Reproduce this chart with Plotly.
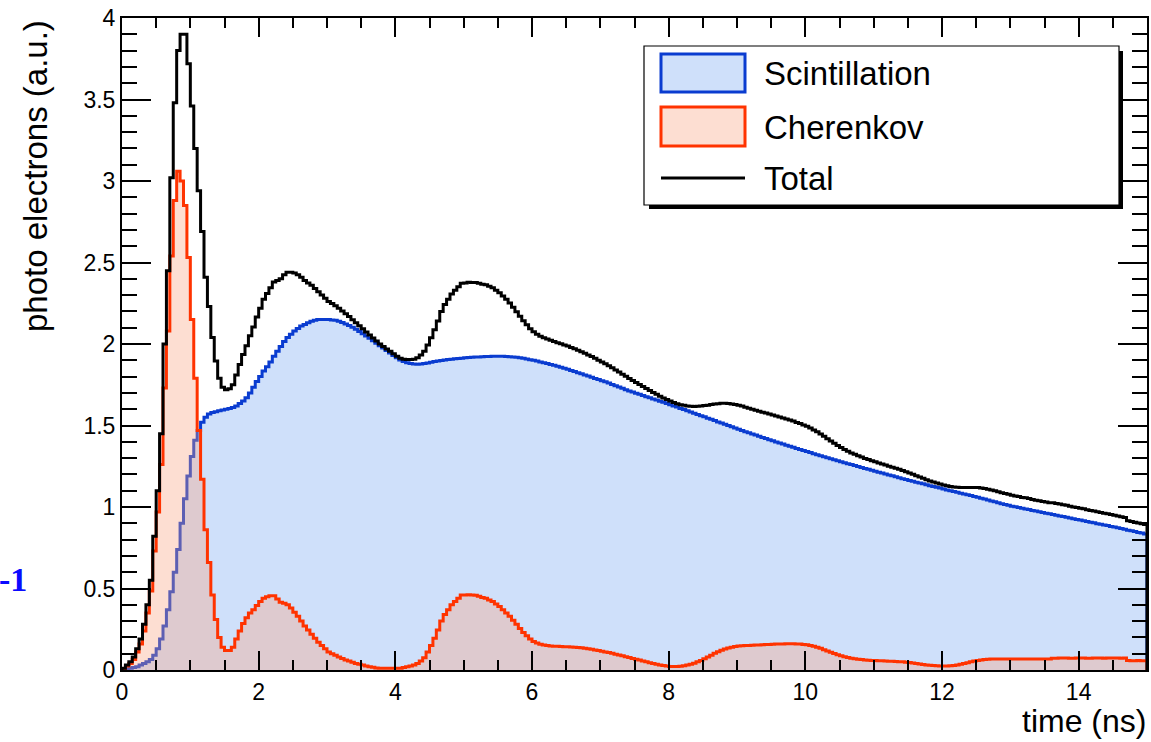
import numpy as np
import plotly.graph_objects as go

# ---------------- data (photo electrons per 0.05 ns bin, 0 - 15 ns) ----------------
t_min = 0.0
bin_width = 0.05

scintillation = [
    0.003, 0.006, 0.010, 0.015, 0.020, 0.030, 0.040, 0.050, 0.065, 0.090,
    0.130, 0.190, 0.270, 0.370, 0.480, 0.600, 0.740, 0.900, 1.050, 1.190,
    1.310, 1.410, 1.470, 1.520, 1.550, 1.570, 1.580, 1.585, 1.590, 1.595,
    1.600, 1.605, 1.610, 1.620, 1.635, 1.650, 1.670, 1.700, 1.735, 1.770,
    1.800, 1.835, 1.860, 1.890, 1.925, 1.955, 1.985, 2.015, 2.040, 2.060,
    2.080, 2.095, 2.110, 2.120, 2.130, 2.140, 2.145, 2.150, 2.150, 2.150,
    2.150, 2.148, 2.145, 2.140, 2.132, 2.123, 2.113, 2.102, 2.090, 2.077,
    2.063, 2.049, 2.035, 2.020, 2.005, 1.990, 1.975, 1.960, 1.945, 1.930,
    1.915, 1.902, 1.892, 1.885, 1.880, 1.877, 1.876, 1.877, 1.880, 1.884,
    1.888, 1.892, 1.896, 1.899, 1.902, 1.905, 1.907, 1.909, 1.911, 1.913,
    1.915, 1.917, 1.918, 1.920, 1.920, 1.922, 1.923, 1.924, 1.925, 1.925,
    1.925, 1.925, 1.924, 1.922, 1.920, 1.918, 1.915, 1.912, 1.908, 1.904,
    1.900, 1.895, 1.890, 1.885, 1.880, 1.875, 1.869, 1.863, 1.857, 1.851,
    1.845, 1.838, 1.831, 1.824, 1.817, 1.810, 1.803, 1.796, 1.789, 1.782,
    1.775, 1.768, 1.760, 1.752, 1.744, 1.736, 1.728, 1.720, 1.712, 1.705,
    1.698, 1.691, 1.684, 1.677, 1.670, 1.663, 1.656, 1.649, 1.642, 1.635,
    1.628, 1.620, 1.613, 1.605, 1.598, 1.590, 1.583, 1.575, 1.568, 1.560,
    1.553, 1.545, 1.538, 1.530, 1.522, 1.515, 1.507, 1.500, 1.492, 1.485,
    1.477, 1.470, 1.462, 1.455, 1.448, 1.441, 1.434, 1.427, 1.420, 1.413,
    1.406, 1.399, 1.392, 1.386, 1.379, 1.372, 1.366, 1.359, 1.353, 1.346,
    1.340, 1.334, 1.327, 1.321, 1.315, 1.309, 1.302, 1.296, 1.290, 1.284,
    1.278, 1.272, 1.266, 1.260, 1.254, 1.248, 1.242, 1.236, 1.231, 1.225,
    1.219, 1.213, 1.208, 1.202, 1.196, 1.191, 1.185, 1.180, 1.174, 1.169,
    1.163, 1.158, 1.152, 1.147, 1.142, 1.136, 1.131, 1.126, 1.121, 1.116,
    1.110, 1.105, 1.100, 1.095, 1.090, 1.085, 1.080, 1.075, 1.070, 1.065,
    1.060, 1.054, 1.049, 1.043, 1.037, 1.032, 1.026, 1.020, 1.015, 1.010,
    1.005, 1.001, 0.997, 0.992, 0.988, 0.984, 0.979, 0.975, 0.971, 0.966,
    0.962, 0.958, 0.954, 0.949, 0.945, 0.941, 0.937, 0.932, 0.928, 0.924,
    0.920, 0.916, 0.911, 0.907, 0.903, 0.898, 0.894, 0.890, 0.886, 0.881,
    0.877, 0.872, 0.868, 0.863, 0.858, 0.854, 0.849, 0.844, 0.840, 0.835,
]

cherenkov = [
    0.007, 0.024, 0.040, 0.065, 0.110, 0.160, 0.240, 0.350, 0.485, 0.730,
    0.970, 1.260, 1.730, 2.080, 2.540, 2.880, 3.060, 3.000, 2.850, 2.530,
    2.150, 1.790, 1.470, 1.170, 0.860, 0.660, 0.460, 0.310, 0.200, 0.140,
    0.120, 0.120, 0.140, 0.190, 0.240, 0.285, 0.320, 0.350, 0.370, 0.395,
    0.420, 0.440, 0.450, 0.455, 0.455, 0.435, 0.415, 0.410, 0.400, 0.380,
    0.355, 0.330, 0.300, 0.270, 0.245, 0.220, 0.195, 0.170, 0.150, 0.130,
    0.110, 0.100, 0.090, 0.080, 0.070, 0.062, 0.055, 0.047, 0.040, 0.035,
    0.030, 0.025, 0.020, 0.017, 0.013, 0.010, 0.010, 0.010, 0.010, 0.010,
    0.010, 0.010, 0.015, 0.020, 0.025, 0.030, 0.040, 0.055, 0.075, 0.110,
    0.150, 0.195, 0.245, 0.300, 0.340, 0.370, 0.400, 0.420, 0.440, 0.460,
    0.460, 0.462, 0.460, 0.458, 0.452, 0.445, 0.440, 0.430, 0.420, 0.405,
    0.390, 0.370, 0.350, 0.330, 0.305, 0.280, 0.255, 0.230, 0.210, 0.190,
    0.175, 0.165, 0.158, 0.153, 0.150, 0.148, 0.146, 0.145, 0.144, 0.143,
    0.142, 0.141, 0.140, 0.138, 0.136, 0.133, 0.130, 0.127, 0.123, 0.119,
    0.115, 0.111, 0.107, 0.102, 0.097, 0.092, 0.087, 0.082, 0.076, 0.071,
    0.066, 0.061, 0.055, 0.050, 0.045, 0.040, 0.035, 0.031, 0.027, 0.024,
    0.022, 0.021, 0.021, 0.023, 0.026, 0.030, 0.035, 0.042, 0.050, 0.059,
    0.069, 0.080, 0.091, 0.102, 0.112, 0.121, 0.129, 0.135, 0.140, 0.144,
    0.147, 0.149, 0.150, 0.151, 0.152, 0.153, 0.154, 0.155, 0.156, 0.157,
    0.158, 0.159, 0.160, 0.160, 0.161, 0.161, 0.161, 0.160, 0.159, 0.157,
    0.155, 0.151, 0.146, 0.140, 0.133, 0.125, 0.117, 0.109, 0.101, 0.094,
    0.087, 0.081, 0.076, 0.072, 0.069, 0.066, 0.064, 0.062, 0.060, 0.059,
    0.058, 0.057, 0.056, 0.055, 0.054, 0.053, 0.052, 0.051, 0.050, 0.048,
    0.046, 0.043, 0.040, 0.037, 0.034, 0.031, 0.029, 0.027, 0.026, 0.025,
    0.025, 0.025, 0.026, 0.028, 0.031, 0.035, 0.040, 0.045, 0.050, 0.055,
    0.059, 0.062, 0.064, 0.066, 0.067, 0.067, 0.067, 0.067, 0.068, 0.068,
    0.067, 0.067, 0.067, 0.067, 0.068, 0.068, 0.067, 0.067, 0.067, 0.068,
    0.068, 0.068, 0.072, 0.072, 0.073, 0.073, 0.073, 0.072, 0.072, 0.073,
    0.073, 0.073, 0.072, 0.072, 0.073, 0.073, 0.073, 0.072, 0.073, 0.073,
    0.073, 0.073, 0.072, 0.073, 0.058, 0.057, 0.057, 0.058, 0.057, 0.057,
]

series_names = ["Scintillation", "Cherenkov", "Total"]
x_title = "time (ns)"
y_title = "photo electrons (a.u.)"

# ---------------- helpers ----------------
scint = np.array(scintillation)
cher = np.array(cherenkov)
total = scint + cher
n_bins = len(scint)
edges = t_min + bin_width * np.arange(n_bins + 1)


def step_xy(vals):
    """histogram outline: start at 0, step through bins, drop back to 0"""
    xs = np.concatenate([[edges[0]], edges[:-1], [edges[-1], edges[-1]]])
    ys = np.concatenate([[0.0], vals, [vals[-1], 0.0]])
    return xs, ys


BLUE_LINE = "#0a3cd0"
BLUE_FILL = "#cfe0fa"
RED_LINE = "#ff3300"
RED_FILL = "rgba(249,161,126,0.35)"
FONT = "Liberation Sans, Arial, Helvetica, sans-serif"
LW = 3

fig = go.Figure()
xs, ys = step_xy(scint)
fig.add_trace(go.Scatter(x=xs, y=ys, mode="lines", line=dict(color=BLUE_LINE, width=LW, shape="hv"),
                         fill="tozeroy", fillcolor=BLUE_FILL, name=series_names[0], hoverinfo="skip"))
xs, ys = step_xy(cher)
fig.add_trace(go.Scatter(x=xs, y=ys, mode="lines", line=dict(color=RED_LINE, width=LW, shape="hv"),
                         fill="tozeroy", fillcolor=RED_FILL, name=series_names[1], hoverinfo="skip"))
xs, ys = step_xy(total)
fig.add_trace(go.Scatter(x=xs, y=ys, mode="lines", line=dict(color="black", width=LW, shape="hv"),
                         name=series_names[2], hoverinfo="skip"))

W, H = 1151, 742
L, R, T, B = 122, 4, 18, 72
PW, PH = W - L - R, H - T - B


def px(p):
    return (p - L) / PW


def py(p):
    return (H - B - p) / PH


shapes = [
    dict(type="rect", xref="paper", yref="paper", x0=px(649), x1=px(1123), y0=py(209), y1=py(51),
         fillcolor="black", line=dict(width=0)),
    dict(type="rect", xref="paper", yref="paper", x0=px(644), x1=px(1119), y0=py(205), y1=py(46),
         fillcolor="white", line=dict(color="black", width=1.2)),
    dict(type="rect", xref="paper", yref="paper", x0=px(661), x1=px(745), y0=py(92), y1=py(54),
         fillcolor=BLUE_FILL, line=dict(color=BLUE_LINE, width=LW)),
    dict(type="rect", xref="paper", yref="paper", x0=px(661), x1=px(745), y0=py(146), y1=py(107),
         fillcolor=RED_FILL, line=dict(color=RED_LINE, width=LW)),
    dict(type="line", xref="paper", yref="paper", x0=px(661), x1=px(745), y0=py(178), y1=py(178),
         line=dict(color="black", width=LW)),
]

annotations = []
for name, yc in zip(series_names, [74, 127, 178]):
    annotations.append(dict(text=name, xref="paper", yref="paper", x=px(762), y=py(yc),
                            xanchor="left", yanchor="middle", showarrow=False,
                            font=dict(family=FONT, size=33, color="black")))
annotations.append(dict(text=x_title, xref="paper", yref="paper", x=px(1148), y=py(721),
                        xanchor="right", yanchor="middle", showarrow=False,
                        font=dict(family=FONT, size=32, color="black")))
annotations.append(dict(text=y_title, xref="paper", yref="paper", x=px(35), y=py(18),
                        xanchor="center", yanchor="top", textangle=-90, showarrow=False,
                        font=dict(family=FONT, size=33, color="black")))
annotations.append(dict(text="<b>-1</b>", xref="paper", yref="paper", x=px(29), y=py(579),
                        xanchor="right", yanchor="middle", showarrow=False,
                        font=dict(family="Liberation Serif, Times New Roman, serif", size=34, color="#0a0aff")))

axis_common = dict(showline=True, linecolor="black", linewidth=2, mirror="allticks", ticks="inside",
                   tickcolor="black", tickwidth=1.5, showgrid=False, zeroline=False,
                   tickfont=dict(family=FONT, size=23, color="black"))

fig.update_layout(
    width=W, height=H, margin=dict(l=L, r=R, t=T, b=B, autoexpand=False),
    plot_bgcolor="white", paper_bgcolor="white", showlegend=False,
    font=dict(family=FONT, size=23, color="black"),
    xaxis=dict(range=[0, 15], tick0=0, dtick=2, ticklen=19,
               minor=dict(dtick=0.5, tick0=0, ticklen=10, ticks="inside", tickcolor="black", tickwidth=1.5, showgrid=False),
               **axis_common),
    yaxis=dict(range=[0, 4], tick0=0, dtick=0.5, ticklen=29,
               minor=dict(dtick=0.1, tick0=0, ticklen=15, ticks="inside", tickcolor="black", tickwidth=1.5, showgrid=False),
               **axis_common),
    shapes=shapes, annotations=annotations,
)

fig.write_html("out.html")
